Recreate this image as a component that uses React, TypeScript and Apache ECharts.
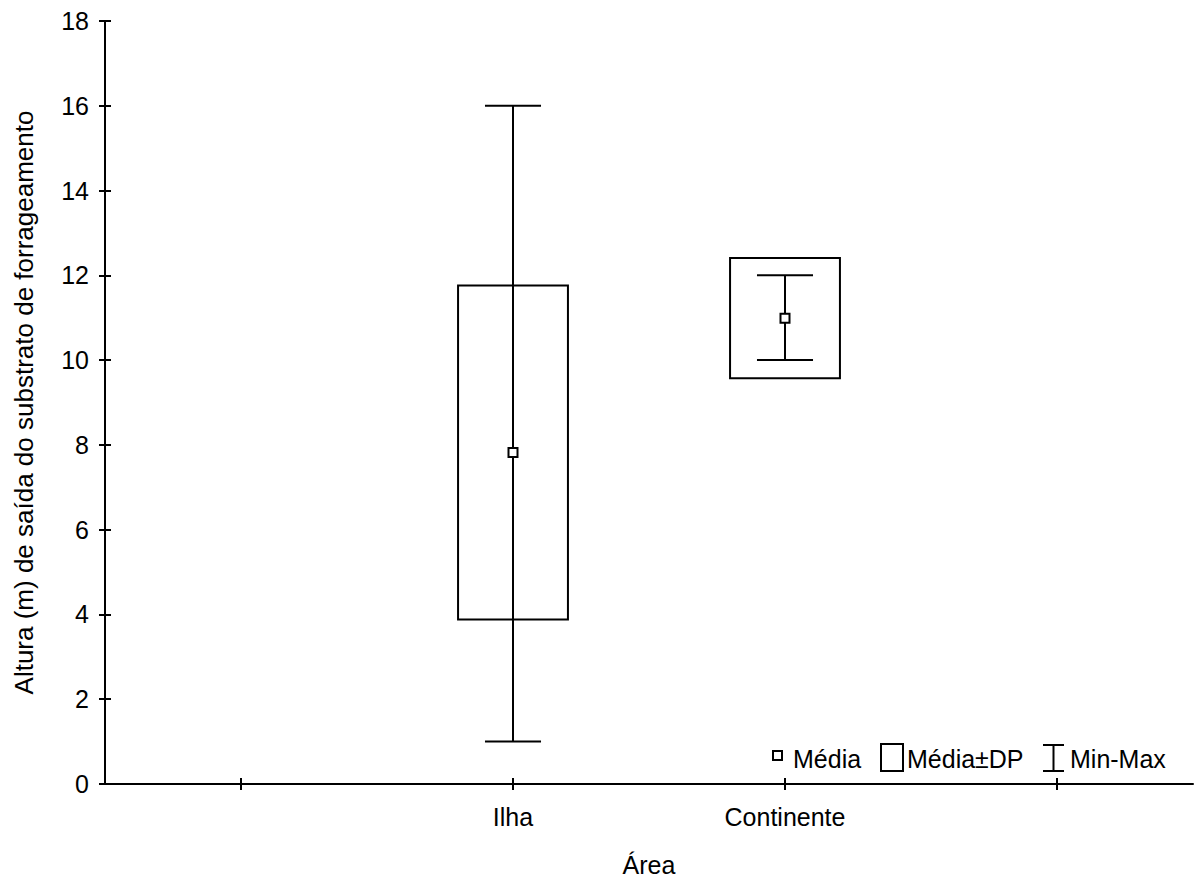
import React, { useEffect, useRef } from "react";
import * as echarts from "echarts";

// Foraging-height summary per area (metres)
const categories = ["", "Ilha", "Continente", " "];
const areas = ["Ilha", "Continente"];
const meanValues = [7.82, 10.99];
const sdValues = [3.94, 1.42];
const minValues = [1, 10];
const maxValues = [16, 12];

const yMin = 0;
const yMax = 18;
const yInterval = 2;

const FONT = "'Liberation Sans', Arial, sans-serif";
const INK = "#000";

export default function App() {
  const ref = useRef<HTMLDivElement>(null);

  useEffect(() => {
    if (!ref.current) return;
    const chart = echarts.init(ref.current, null, { renderer: "svg" });

    const seriesData = areas.map((a, i) => [
      a,
      meanValues[i],
      sdValues[i],
      minValues[i],
      maxValues[i],
    ]);

    const renderItem = (params: any, api: any) => {
      const xi = api.value(0);
      const mean = api.value(1);
      const sd = api.value(2);
      const lo = api.value(3);
      const hi = api.value(4);
      const catW = api.size([1, 0])[0];
      const boxW = catW * 0.404;
      const capW = catW * 0.206;
      const [cx, yMean] = api.coord([xi, mean]);
      const yTop = api.coord([xi, mean + sd])[1];
      const yBot = api.coord([xi, mean - sd])[1];
      const yHi = api.coord([xi, hi])[1];
      const yLo = api.coord([xi, lo])[1];
      const stroke = { stroke: INK, lineWidth: 2 };
      const m = 9;
      return {
        type: "group",
        children: [
          { type: "line", shape: { x1: cx, y1: yHi, x2: cx, y2: yLo }, style: stroke },
          { type: "line", shape: { x1: cx - capW / 2, y1: yHi, x2: cx + capW / 2, y2: yHi }, style: stroke },
          { type: "line", shape: { x1: cx - capW / 2, y1: yLo, x2: cx + capW / 2, y2: yLo }, style: stroke },
          {
            type: "rect",
            shape: { x: cx - boxW / 2, y: yTop, width: boxW, height: yBot - yTop },
            style: { ...stroke, fill: "none" },
          },
          {
            type: "rect",
            shape: { x: cx - m / 2, y: yMean - m / 2, width: m, height: m },
            style: { ...stroke, fill: "#fff" },
          },
        ],
      };
    };

    const labelStyle = { fontSize: 25, color: INK, fontFamily: FONT };

    chart.setOption({
      animation: false,
      backgroundColor: "#fff",
      textStyle: { fontFamily: FONT },
      grid: { left: 105, right: 2, top: 21, bottom: 95, containLabel: false },
      xAxis: [
        {
          type: "category",
          data: categories,
          boundaryGap: true,
          name: "Área",
          nameLocation: "middle",
          nameGap: 68,
          nameTextStyle: labelStyle,
          axisLine: { show: true, lineStyle: { color: INK, width: 2 } },
          axisTick: { show: true, alignWithLabel: true, interval: 0, length: 6, lineStyle: { color: INK, width: 2 } },
          axisLabel: { ...labelStyle, interval: 0, margin: 20 },
          splitLine: { show: false },
        },
        {
          type: "category",
          data: categories,
          boundaryGap: true,
          position: "bottom",
          axisLine: { show: false },
          axisTick: { show: true, inside: true, alignWithLabel: true, interval: 0, length: 6, lineStyle: { color: INK, width: 2 } },
          axisLabel: { show: false },
          splitLine: { show: false },
        },
      ],
      yAxis: [
        {
          type: "value",
          min: yMin,
          max: yMax,
          interval: yInterval,
          name: "Altura (m) de saída do substrato de forrageamento",
          nameLocation: "middle",
          nameGap: 68,
          nameTextStyle: { ...labelStyle, fontSize: 26 },
          axisLine: { show: true, lineStyle: { color: INK, width: 2 } },
          axisTick: { show: true, length: 6, lineStyle: { color: INK, width: 2 } },
          axisLabel: { ...labelStyle, margin: 16 },
          splitLine: { show: false },
        },
        {
          type: "value",
          min: yMin,
          max: yMax,
          interval: yInterval,
          position: "left",
          offset: 0,
          axisLine: { show: false },
          axisTick: { show: true, inside: true, length: 6, lineStyle: { color: INK, width: 2 } },
          axisLabel: { show: false },
          splitLine: { show: false },
        },
      ],
      series: [
        {
          name: "Área",
          type: "custom",
          xAxisIndex: 0,
          yAxisIndex: 0,
          renderItem,
          encode: { x: 0, y: [3, 4] },
          data: seriesData,
          z: 5,
        },
      ],
      graphic: [
        // key: mean marker
        {
          type: "rect",
          shape: { x: 773, y: 751, width: 9, height: 9 },
          style: { stroke: INK, lineWidth: 2, fill: "#fff" },
        },
        {
          type: "text",
          x: 793,
          y: 759,
          style: { text: "Média", fontSize: 25, fontFamily: FONT, fill: INK, verticalAlign: "middle" },
        },
        // key: mean ± SD box
        {
          type: "rect",
          shape: { x: 881, y: 744, width: 22, height: 27 },
          style: { stroke: INK, lineWidth: 2, fill: "none" },
        },
        {
          type: "text",
          x: 907,
          y: 759,
          style: { text: "Média±DP", fontSize: 25, fontFamily: FONT, fill: INK, verticalAlign: "middle" },
        },
        // key: min-max whisker
        {
          type: "group",
          children: [
            { type: "line", shape: { x1: 1043, y1: 745, x2: 1064, y2: 745 }, style: { stroke: INK, lineWidth: 2 } },
            { type: "line", shape: { x1: 1053.5, y1: 745, x2: 1053.5, y2: 771 }, style: { stroke: INK, lineWidth: 2 } },
            { type: "line", shape: { x1: 1043, y1: 771, x2: 1064, y2: 771 }, style: { stroke: INK, lineWidth: 2 } },
          ],
        },
        {
          type: "text",
          x: 1070,
          y: 759,
          style: { text: "Min-Max", fontSize: 25, fontFamily: FONT, fill: INK, verticalAlign: "middle" },
        },
      ],
    });

    return () => chart.dispose();
  }, []);

  return (
    <div
      ref={ref}
      style={{ position: "absolute", left: 0, top: 0, width: 1195, height: 882 }}
    />
  );
}
